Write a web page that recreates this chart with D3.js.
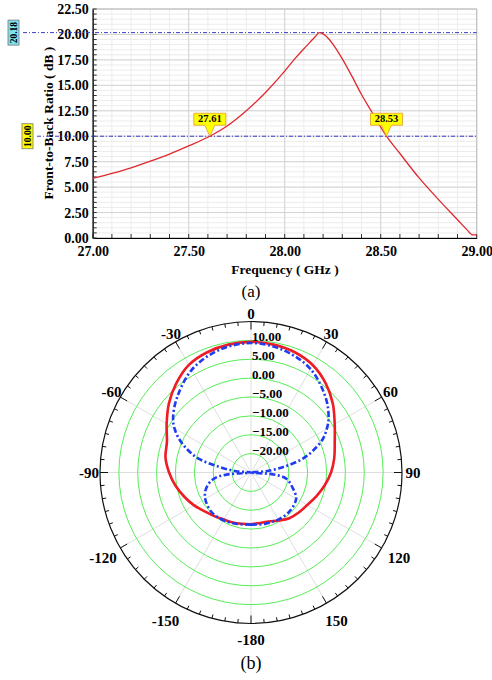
<!DOCTYPE html>
<html>
<head>
<meta charset="utf-8">
<script src="https://cdn.jsdelivr.net/npm/d3@7"></script>
<style>
  body { margin: 0; background: #fff; }
  text { font-family: "Liberation Serif", "Times New Roman", serif; }
</style>
</head>
<body>
<div id="chart"></div>
<script>
// (a) front-to-back ratio vs frequency
var freq = [27.0, 27.1, 27.2, 27.3, 27.4, 27.5, 27.61, 27.7, 27.8, 27.9, 28.0, 28.05, 28.1, 28.13, 28.16, 28.18,
            28.2, 28.23, 28.26, 28.3, 28.35, 28.4, 28.45, 28.53, 28.6, 28.7, 28.8, 28.9, 28.95, 28.98, 29.0];
var fbr = [5.85, 6.35, 6.9, 7.55, 8.25, 9.05, 10.0, 11.0, 12.5, 14.3, 16.4, 17.55, 18.6, 19.2, 19.8, 20.18,
           20.05, 19.55, 18.8, 17.6, 15.9, 14.1, 12.5, 10.0, 8.3, 5.9, 3.8, 1.8, 0.8, 0.3, 0.3];
var xTicks = [27.0, 27.5, 28.0, 28.5, 29.0];
var yTicks = [0, 2.5, 5, 7.5, 10, 12.5, 15, 17.5, 20, 22.5];
var hMarkers = [{ v: 20.18, fill: "#7fe3ee" }, { v: 10.0, fill: "#ffff00" }];
var vMarkers = [27.61, 28.53];

// (b) radiation pattern
var redAngles = d3.range(-180, 181, 10);
var redGain = [-11.3, -11.2, -10.9, -10.6, -9.9, -9.0, -7.6, -6.2, -4.7, -3.3, -2.0, -1.3, 0.8, 3.4, 5.8, 7.9, 8.9, 9.4,
               9.6, 9.4, 8.9, 7.8, 5.8, 3.3, 0.6, -1.4, -2.6, -3.8, -5.2, -6.6, -7.8, -8.5, -9.2, -10.3, -11.2, -11.4, -11.3];
var blueAngles = [-180, -165, -150, -135, -120, -110, -100, -95, -90, -85, -80, -75, -70, -65, -60, -55, -45, -30, -15,
                  0, 15, 30, 45, 55, 60, 65, 70, 75, 80, 85, 90, 95, 100, 110, 120, 135, 150, 165, 180];
var blueGain = [-11.2, -10.9, -10.4, -10.2, -11.0, -12.3, -14.8, -18.5, -30, -21, -16.5, -10.5, -7.0, -4.0, -1.6, 0.2, 2.8, 6.4, 8.5,
                9.3, 8.5, 6.6, 3.0, 0.1, -1.8, -4.0, -7.2, -10.8, -16, -21, -30, -19, -15.5, -13.3, -11.2, -10.5, -10.6, -10.9, -11.2];
var ringValues = [10, 5, 0, -5, -10, -15, -20];
var angleLabels = [0, 30, 60, 90, 120, 150, 180, -150, -120, -90, -60, -30];

var width = 492, height = 680;
var svg = d3.select("#chart").append("svg")
    .attr("width", width)
    .attr("height", height);

// ---------- chart (a) ----------
var x = d3.scaleLinear().domain([27, 29]).range([92.7, 476.7]);
var y = d3.scaleLinear().domain([0, 22.5]).range([238, 9]);

var ga = svg.append("g");

// minor grid
ga.selectAll(".vminor").data(d3.range(27, 29.001, 0.1))
  .enter().append("line")
    .attr("x1", function(d){ return x(d); }).attr("x2", function(d){ return x(d); })
    .attr("y1", y(0)).attr("y2", y(22.5))
    .attr("stroke", "#ececec");
ga.selectAll(".hminor").data(d3.range(0, 22.501, 0.5))
  .enter().append("line")
    .attr("x1", x(27)).attr("x2", x(29))
    .attr("y1", function(d){ return y(d); }).attr("y2", function(d){ return y(d); })
    .attr("stroke", "#ececec");
// major grid
ga.selectAll(".vmajor").data(xTicks)
  .enter().append("line")
    .attr("x1", function(d){ return x(d); }).attr("x2", function(d){ return x(d); })
    .attr("y1", y(0)).attr("y2", y(22.5))
    .attr("stroke", "#d4d4d4");
ga.selectAll(".hmajor").data(yTicks)
  .enter().append("line")
    .attr("x1", x(27)).attr("x2", x(29))
    .attr("y1", function(d){ return y(d); }).attr("y2", function(d){ return y(d); })
    .attr("stroke", "#d4d4d4");
ga.append("rect")
    .attr("x", x(27)).attr("y", y(22.5))
    .attr("width", x(29) - x(27)).attr("height", y(0) - y(22.5))
    .attr("fill", "none").attr("stroke", "#bdbdbd");

// axes with inward ticks
var xAxis = ga.append("g").attr("transform", "translate(0," + y(0) + ")")
    .call(d3.axisBottom(x).tickValues(xTicks).tickFormat(d3.format(".2f")).tickSize(0).tickPadding(8));
var yAxis = ga.append("g").attr("transform", "translate(" + x(27) + ",0)")
    .call(d3.axisLeft(y).tickValues(yTicks).tickFormat(d3.format(".2f")).tickSize(0).tickPadding(4));
[xAxis, yAxis].forEach(function(a){
  a.select(".domain").attr("stroke", "#000").attr("stroke-width", 1.2);
  a.selectAll("text").attr("font-size", 14).attr("font-weight", "bold").attr("fill", "#000");
});
ga.selectAll(".xt").data(d3.range(27, 29.001, 0.1))
  .enter().append("line")
    .attr("x1", function(d){ return x(d); }).attr("x2", function(d){ return x(d); })
    .attr("y1", y(0)).attr("y2", y(0) - 4)
    .attr("stroke", "#333");
ga.selectAll(".yt").data(d3.range(0, 22.501, 0.5))
  .enter().append("line")
    .attr("x1", x(27)).attr("x2", x(27) + 4)
    .attr("y1", function(d){ return y(d); }).attr("y2", function(d){ return y(d); })
    .attr("stroke", "#333");

// horizontal marker lines with rotated value boxes
hMarkers.forEach(function(m, i){
  var bx = i === 0 ? 8 : 22;
  ga.append("line")
    .attr("x1", bx + 15).attr("x2", x(29))
    .attr("y1", y(m.v)).attr("y2", y(m.v))
    .attr("stroke", "#3c3cc8").attr("stroke-width", 1)
    .attr("stroke-dasharray", "4,2,1,2");
  ga.append("rect")
    .attr("x", bx).attr("y", y(m.v) - 12.5)
    .attr("width", 11).attr("height", 25)
    .attr("fill", m.fill).attr("stroke", "#777").attr("stroke-width", 0.8);
  ga.append("text")
    .attr("transform", "translate(" + (bx + 5.5) + "," + y(m.v) + ") rotate(-90)")
    .attr("text-anchor", "middle").attr("dy", "0.35em")
    .attr("font-size", 9.5).attr("font-weight", "bold")
    .text(m.v.toFixed(2));
});

// curve
var line = d3.line()
    .x(function(d, i){ return x(freq[i]); })
    .y(function(d){ return y(d); })
    .curve(d3.curveMonotoneX);
ga.append("path").datum(fbr)
    .attr("d", line)
    .attr("fill", "none").attr("stroke", "#e0282e").attr("stroke-width", 1.3);

// yellow callouts
vMarkers.forEach(function(f){
  var px = x(f), py = y(10);
  var c = ga.append("g");
  c.append("path")
    .attr("d", "M" + (px - 16) + "," + (py - 23) + "H" + (px + 16) + "V" + (py - 11) +
               "H" + (px + 5) + "L" + px + "," + py + "L" + (px - 5) + "," + (py - 11) +
               "H" + (px - 16) + "Z")
    .attr("fill", "#ffff00").attr("stroke", "#e4a43a").attr("stroke-width", 0.9);
  c.append("text")
    .attr("x", px).attr("y", py - 14)
    .attr("text-anchor", "middle")
    .attr("font-size", 10.5).attr("font-weight", "bold")
    .text(f.toFixed(2));
});

ga.append("text")
    .attr("transform", "translate(53,123) rotate(-90)")
    .attr("text-anchor", "middle")
    .attr("font-size", 13.5).attr("font-weight", "bold")
    .text("Front-to-Back Ratio ( dB )");
ga.append("text")
    .attr("x", 285).attr("y", 274)
    .attr("text-anchor", "middle")
    .attr("font-size", 13.5).attr("font-weight", "bold")
    .text("Frequency ( GHz )");
ga.append("text")
    .attr("x", 251).attr("y", 297)
    .attr("text-anchor", "middle")
    .attr("font-size", 17)
    .text("(a)");

// ---------- chart (b) ----------
var cx = 251, cy = 472.5, R = 151;
var r = d3.scaleLinear().domain([-25, 15]).range([0, R]).clamp(true);
var rad = function(a){ return a * Math.PI / 180; };
var labelR = d3.scaleLinear().domain([0, 90, 120, 150, 180]).range([159, 162, 171, 171, 167]);

var gb = svg.append("g").attr("transform", "translate(" + cx + "," + cy + ")");

// spokes
gb.selectAll(".spoke").data(d3.range(0, 360, 30))
  .enter().append("line")
    .attr("x1", 0).attr("y1", 0)
    .attr("x2", function(d){ return R * Math.sin(rad(d)); })
    .attr("y2", function(d){ return -R * Math.cos(rad(d)); })
    .attr("stroke", "#dedede");

// rings
gb.selectAll(".ring").data(ringValues)
  .enter().append("circle")
    .attr("r", function(d){ return r(d); })
    .attr("fill", "none").attr("stroke", "#55ee55").attr("stroke-width", 1);

gb.append("circle").attr("r", R)
    .attr("fill", "none").attr("stroke", "#111").attr("stroke-width", 1.2);

// outer ticks
gb.selectAll(".tick").data(d3.range(0, 360, 5))
  .enter().append("line")
    .attr("x1", function(d){ return R * Math.sin(rad(d)); })
    .attr("y1", function(d){ return -R * Math.cos(rad(d)); })
    .attr("x2", function(d){ var l = d % 30 === 0 ? 8 : 4; return (R - l) * Math.sin(rad(d)); })
    .attr("y2", function(d){ var l = d % 30 === 0 ? 8 : 4; return -(R - l) * Math.cos(rad(d)); })
    .attr("stroke", "#111");

// ring labels
gb.selectAll(".rlab").data(ringValues)
  .enter().append("text")
    .attr("x", 1).attr("y", function(d){ return -r(d) + 1; })
    .attr("font-size", 13).attr("font-weight", "bold")
    .text(function(d){ return d3.format(".2f")(d); });

// angle labels
gb.selectAll(".alab").data(angleLabels)
  .enter().append("text")
    .attr("x", function(d){ return labelR(Math.abs(d)) * Math.sin(rad(d)); })
    .attr("y", function(d){ return -labelR(Math.abs(d)) * Math.cos(rad(d)); })
    .attr("text-anchor", "middle").attr("dy", "0.35em")
    .attr("font-size", 15).attr("font-weight", "bold")
    .text(function(d){ return d === 180 ? "-180" : d; });

var radial = function(angles){
  return d3.lineRadial()
    .angle(function(d, i){ return rad(angles[i]); })
    .radius(function(d){ return r(d); })
    .curve(d3.curveCatmullRom);
};
gb.append("path").datum(redGain)
    .attr("d", radial(redAngles))
    .attr("fill", "none").attr("stroke", "#ee1c24").attr("stroke-width", 2.6);
gb.append("path").datum(blueGain)
    .attr("d", radial(blueAngles))
    .attr("fill", "none").attr("stroke", "#1f3cf0").attr("stroke-width", 2.6)
    .attr("stroke-dasharray", "6,2.5,2,2.5");

svg.append("text")
    .attr("x", 251).attr("y", 669)
    .attr("text-anchor", "middle")
    .attr("font-size", 18)
    .text("(b)");
</script>
</body>
</html>
